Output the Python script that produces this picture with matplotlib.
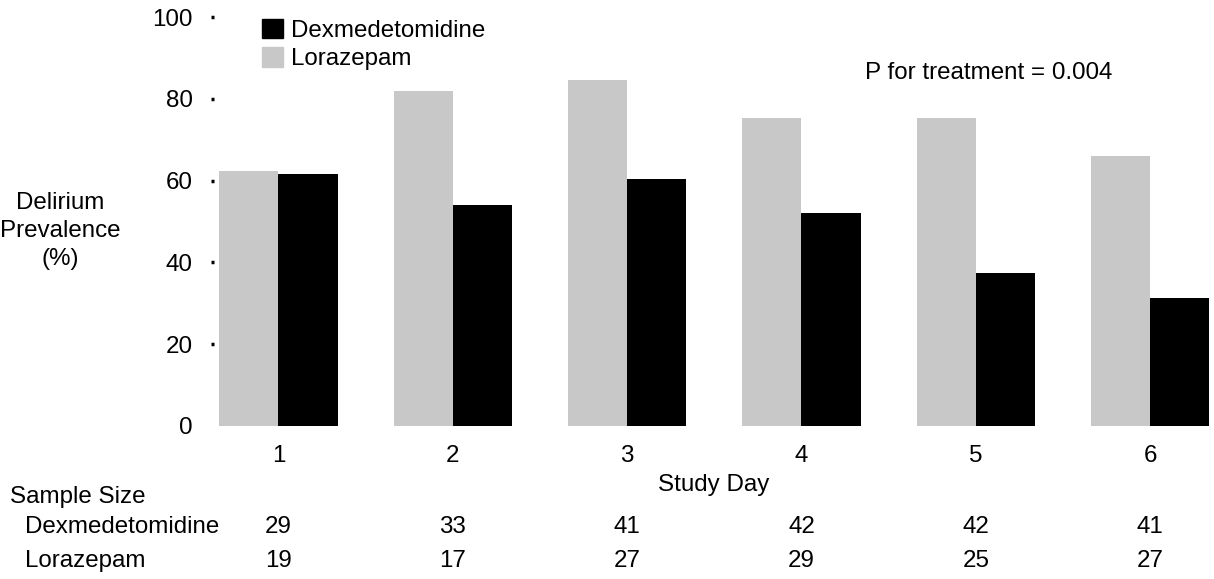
import matplotlib.pyplot as plt
from matplotlib.patches import Patch
from matplotlib.transforms import blended_transform_factory
import numpy as np

plt.rcParams['font.family'] = ['Liberation Sans', 'DejaVu Sans']

days = ["1", "2", "3", "4", "5", "6"]
lorazepam = [62.3, 81.9, 84.6, 75.3, 75.3, 66.0]
dexmed = [61.6, 54.0, 60.4, 52.0, 37.4, 31.3]
n_dexmed = [29, 33, 41, 42, 42, 41]
n_lorazepam = [19, 17, 27, 29, 25, 27]

GRAY = "#c8c8c8"
FS = 17.4

fig = plt.figure(figsize=(12.14, 5.79), dpi=100)
ax = fig.add_axes([214/1214, 1-426/579, (1212-214)/1214, (426-17)/579])

x = np.arange(len(days))
w = 0.34
ax.bar(x - w/2, lorazepam, w, color=GRAY, label="Lorazepam")
ax.bar(x + w/2, dexmed, w, color="black", label="Dexmedetomidine")

ax.set_xlim(-0.37, 5.355)
ax.set_ylim(0, 100)
ax.set_yticks([0, 20, 40, 60, 80, 100])
ax.set_xticks(x)
ax.set_xticklabels(days)
for s in ax.spines.values():
    s.set_visible(False)
ax.tick_params(axis='y', length=2.5, width=2.5, pad=13, labelsize=FS)
ax.tick_params(axis='x', length=0, pad=14, labelsize=FS)
# no tick mark at zero in the original
ax.yaxis.get_major_ticks()[0].tick1line.set_visible(False)

handles = [Patch(color="black"), Patch(color=GRAY)]
fig.legend(handles, ["Dexmedetomidine", "Lorazepam"], loc="upper left",
           bbox_to_anchor=(262/1214, 1-19/579), frameon=False, fontsize=FS,
           handlelength=0.85, handleheight=0.85, handletextpad=0.35,
           labelspacing=0.22, borderpad=0, borderaxespad=0)

fig.text(60/1214, 1-231/579, "Delirium\nPrevalence\n(%)", ha="center", va="center",
         fontsize=FS, linespacing=1.33)
fig.text(989/1214, 1-73/579, "P for treatment = 0.004", ha="center", va="center", fontsize=FS)
fig.text(714/1214, 1-485/579, "Study Day", ha="center", va="center", fontsize=FS)

# sample size table under the axis
fig.text(10/1214, 1-497/579, "Sample Size", ha="left", va="center", fontsize=FS)
fig.text(25/1214, 1-527/579, "Dexmedetomidine", ha="left", va="center", fontsize=FS)
fig.text(25/1214, 1-561/579, "Lorazepam", ha="left", va="center", fontsize=FS)
trans = blended_transform_factory(ax.transData, fig.transFigure)
for i in range(len(days)):
    ax.text(x[i], 1-527/579, str(n_dexmed[i]), transform=trans, ha="center", va="center", fontsize=FS)
    ax.text(x[i], 1-561/579, str(n_lorazepam[i]), transform=trans, ha="center", va="center", fontsize=FS)

fig.savefig("out.png", dpi=100)
